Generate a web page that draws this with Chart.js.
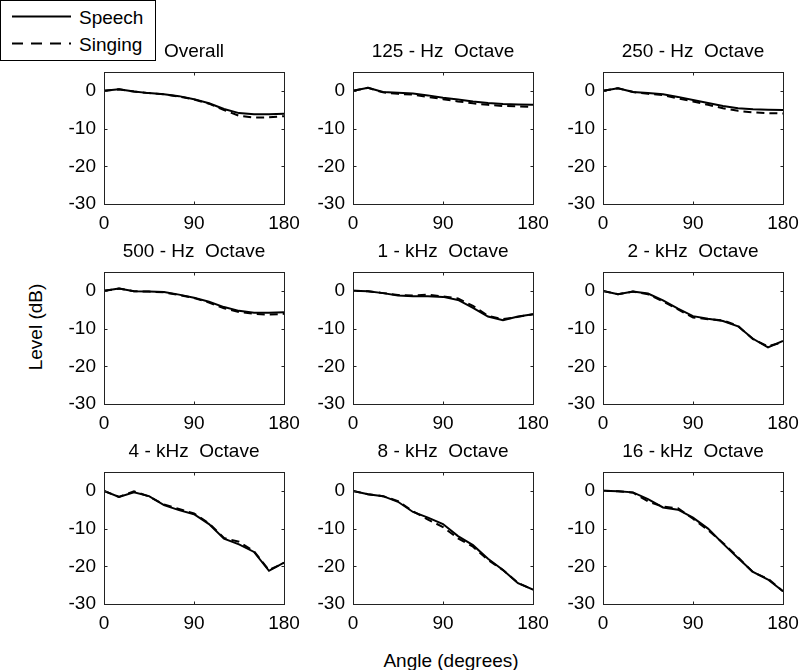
<!DOCTYPE html>
<html>
<head>
<meta charset="utf-8">
<script src="https://cdn.jsdelivr.net/npm/chart.js@4.4.0/dist/chart.umd.min.js"></script>
<style>
html,body{margin:0;padding:0;background:#fff;}
body{width:800px;height:670px;position:relative;overflow:hidden;font-family:"Liberation Sans",Arial,sans-serif;}
canvas.cv{position:absolute;}
#legend{position:absolute;left:0;top:0;z-index:5;}
.lab{position:absolute;font-size:19px;color:#000;white-space:nowrap;line-height:19px;}
#ylab{left:35px;top:327px;transform:translate(-50%,-50%) rotate(-90deg);}
#xlab{left:451px;top:660px;transform:translate(-50%,-50%);}
</style>
</head>
<body>
<svg id="legend" width="156" height="61">
  <rect x="0.5" y="0.5" width="155" height="60" fill="#fff" stroke="#000" stroke-width="1"/>
  <line x1="12" y1="16.5" x2="71" y2="16.5" stroke="#000" stroke-width="2"/>
  <line x1="12" y1="43.5" x2="71" y2="43.5" stroke="#000" stroke-width="2" stroke-dasharray="11,8"/>
  <text x="79" y="24" font-family="Liberation Sans, Arial, sans-serif" font-size="19" fill="#000">Speech</text>
  <text x="79" y="51" font-family="Liberation Sans, Arial, sans-serif" font-size="19" fill="#000">Singing</text>
</svg>
<div class="lab" id="ylab">Level (dB)</div>
<div class="lab" id="xlab">Angle (degrees)</div>
<script>
// ---- data ----
const angles = [0, 15, 30, 45, 60, 75, 90, 105, 120, 135, 150, 165, 180];
const xTicks = [0, 90, 180];
const yTicks = [-30, -20, -10, 0];
const titles = ["Overall", "125 - Hz  Octave", "250 - Hz  Octave",
                "500 - Hz  Octave", "1 - kHz  Octave", "2 - kHz  Octave",
                "4 - kHz  Octave", "8 - kHz  Octave", "16 - kHz  Octave"];
const seriesNames = ["Speech", "Singing"];

const overallSpeech  = [0, 0.4, -0.2, -0.6, -0.9, -1.4, -2.2, -3.3, -4.8, -5.9, -6.2, -6.2, -6.1];
const overallSinging = [0, 0.4, -0.2, -0.6, -0.9, -1.5, -2.3, -3.4, -5.1, -6.6, -7.1, -7.0, -6.7];
const hz125Speech    = [0, 0.8, -0.3, -0.5, -0.7, -1.2, -1.8, -2.3, -2.8, -3.2, -3.5, -3.6, -3.7];
const hz125Singing   = [0, 0.8, -0.4, -0.8, -1.0, -1.6, -2.2, -2.8, -3.3, -3.7, -4.0, -4.1, -4.3];
const hz250Speech    = [0, 0.7, -0.3, -0.6, -0.9, -1.6, -2.4, -3.2, -4.0, -4.6, -4.9, -5.0, -5.1];
const hz250Singing   = [0, 0.7, -0.3, -0.8, -1.1, -2.0, -2.8, -3.7, -4.6, -5.3, -5.7, -5.9, -6.0];
const hz500Speech    = [0, 0.6, -0.1, -0.2, -0.3, -1.0, -1.8, -2.9, -4.3, -5.3, -5.8, -5.8, -5.7];
const hz500Singing   = [0, 0.6, -0.1, -0.2, -0.4, -1.1, -1.9, -3.1, -4.6, -5.6, -6.1, -6.3, -6.1];
const k1Speech       = [0, -0.1, -0.6, -1.2, -1.4, -1.4, -1.6, -2.4, -4.5, -6.8, -7.8, -6.8, -6.2];
const k1Singing      = [0, -0.1, -0.6, -1.1, -1.2, -1.0, -1.5, -2.0, -4.0, -6.6, -7.5, -6.9, -6.2];
const k2Speech       = [0, -0.9, -0.2, -0.7, -2.5, -4.7, -6.7, -7.4, -8.0, -9.4, -12.7, -15.0, -13.3];
const k2Singing      = [0, -0.9, -0.2, -0.9, -2.8, -4.9, -7.1, -7.5, -7.8, -9.3, -12.8, -14.7, -13.6];
const k4Speech       = [0, -1.6, -0.4, -1.4, -3.8, -5.1, -6.2, -8.8, -12.7, -14.2, -16.2, -21.2, -19.0];
const k4Singing      = [0, -1.6, -0.1, -1.5, -3.6, -4.8, -6.0, -8.6, -12.5, -13.5, -16.0, -21.0, -19.1];
const k8Speech       = [0, -0.9, -1.4, -2.9, -5.6, -7.1, -8.8, -12.0, -14.4, -18.0, -21.0, -24.5, -26.2];
const k8Singing      = [0, -0.9, -1.4, -2.7, -5.4, -7.6, -9.6, -12.6, -14.8, -18.3, -21.0, -24.4, -26.2];
const k16Speech      = [0, -0.1, -0.4, -2.2, -4.4, -5.0, -7.1, -10.0, -14.0, -17.8, -21.5, -23.5, -26.6];
const k16Singing     = [0, -0.1, -0.5, -2.8, -4.2, -4.6, -7.4, -10.4, -13.8, -17.6, -21.6, -23.3, -26.6];

const speechSets  = [overallSpeech, hz125Speech, hz250Speech, hz500Speech, k1Speech, k2Speech, k4Speech, k8Speech, k16Speech];
const singingSets = [overallSinging, hz125Singing, hz250Singing, hz500Singing, k1Singing, k2Singing, k4Singing, k8Singing, k16Singing];

// ---- layout ----
const plotLefts = [104, 353, 603];
const plotTops = [72, 272, 472];
const PW = 180, PH = 132;
const ML = 70, MR = 70, MT = 40, MB = 35;

Chart.defaults.font.family = '"Liberation Sans", Arial, sans-serif';
Chart.defaults.color = '#000';

const boxPlugin = {
  id: 'box',
  afterDraw(chart) {
    const ctx = chart.ctx, a = chart.chartArea, x = chart.scales.x, y = chart.scales.y;
    ctx.save();
    ctx.strokeStyle = '#222';
    ctx.lineWidth = 1;
    const L = Math.round(a.left) + 0.5, T = Math.round(a.top) + 0.5;
    const R = Math.round(a.right) + 0.5, B = Math.round(a.bottom) + 0.5;
    ctx.strokeRect(L, T, R - L, B - T);
    const t = 3;
    ctx.beginPath();
    xTicks.forEach(v => {
      const px = Math.round(x.getPixelForValue(v)) + 0.5;
      ctx.moveTo(px, B); ctx.lineTo(px, B - t);
      ctx.moveTo(px, T); ctx.lineTo(px, T + t);
    });
    yTicks.forEach(v => {
      const py = Math.round(y.getPixelForValue(v)) + 0.5;
      ctx.moveTo(L, py); ctx.lineTo(L + t, py);
      ctx.moveTo(R, py); ctx.lineTo(R - t, py);
    });
    ctx.stroke();
    ctx.restore();
  }
};

for (let i = 0; i < 9; i++) {
  const r = Math.floor(i / 3), c = i % 3;
  const cv = document.createElement('canvas');
  cv.className = 'cv';
  cv.width = ML + PW + MR;
  cv.height = MT + PH + MB;
  cv.style.left = (plotLefts[c] - ML) + 'px';
  cv.style.top = (plotTops[r] - MT) + 'px';
  document.body.appendChild(cv);
  new Chart(cv, {
    type: 'line',
    data: {
      labels: angles,
      datasets: [
        { label: seriesNames[1], data: angles.map((a, k) => ({x: a, y: singingSets[i][k]})),
          borderColor: '#000', borderWidth: 2, borderDash: [8, 5], pointRadius: 0, tension: 0, fill: false },
        { label: seriesNames[0], data: angles.map((a, k) => ({x: a, y: speechSets[i][k]})),
          borderColor: '#000', borderWidth: 2, pointRadius: 0, tension: 0, fill: false }
      ]
    },
    options: {
      responsive: false,
      animation: false,
      devicePixelRatio: 1,
      layout: { padding: 0 },
      plugins: {
        legend: { display: false },
        tooltip: { enabled: false },
        title: { display: true, text: titles[i], color: '#000',
                 font: { size: 19, weight: 'normal', lineHeight: 1 },
                 padding: { top: 10, bottom: 11 } }
      },
      scales: {
        x: {
          type: 'linear', min: 0, max: 180,
          grid: { display: false, drawTicks: false },
          border: { display: false },
          ticks: { font: { size: 19 }, color: '#000', padding: 8, maxRotation: 0, autoSkip: false },
          afterBuildTicks: s => { s.ticks = xTicks.map(v => ({ value: v })); },
          afterFit: s => { s.height = MB; }
        },
        y: {
          type: 'linear', min: -30, max: 5,
          grid: { display: false, drawTicks: false },
          border: { display: false },
          ticks: { font: { size: 19 }, color: '#000', padding: 8, autoSkip: false },
          afterBuildTicks: s => { s.ticks = yTicks.map(v => ({ value: v })); },
          afterFit: s => { s.width = ML; }
        },
        yR: {
          type: 'linear', position: 'right', min: -30, max: 5,
          grid: { display: false, drawTicks: false },
          border: { display: false },
          ticks: { display: false },
          afterFit: s => { s.width = MR; }
        }
      }
    },
    plugins: [boxPlugin]
  });
}
</script>
</body>
</html>
